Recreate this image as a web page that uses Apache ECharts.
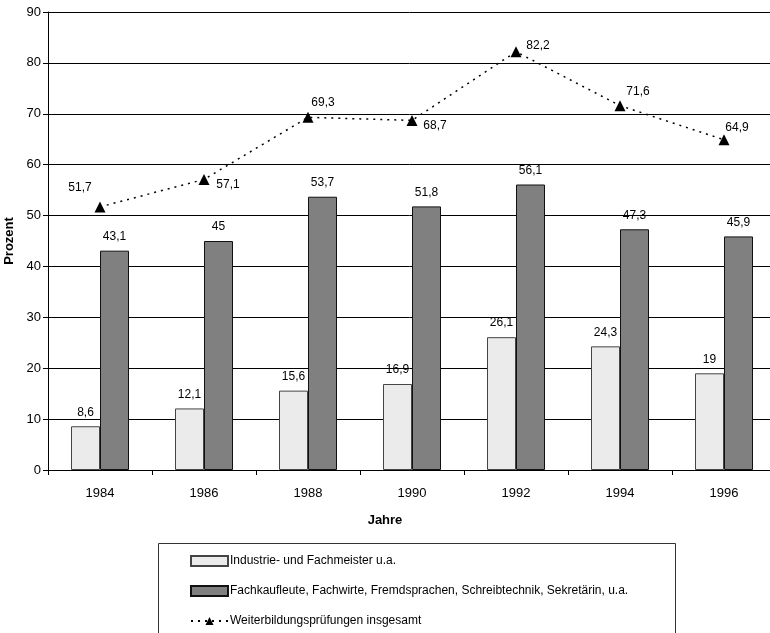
<!DOCTYPE html>
<html>
<head>
<meta charset="utf-8">
<script src="https://cdn.jsdelivr.net/npm/echarts@6/dist/echarts.min.js"></script>
<style>
  html, body { margin: 0; padding: 0; background: #fff; }
  #chart { width: 770px; height: 633px; }
</style>
</head>
<body>
<div id="chart"></div>
<script>
// Jahre und Prüfungsanteile (in Prozent)
const years = ['1984', '1986', '1988', '1990', '1992', '1994', '1996'];
const industrie = [8.6, 12.1, 15.6, 16.9, 26.1, 24.3, 19];
const kaufleute = [43.1, 45, 53.7, 51.8, 56.1, 47.3, 45.9];
const insgesamt = [51.7, 57.1, 69.3, 68.7, 82.2, 71.6, 64.9];
const yTicks = [0, 10, 20, 30, 40, 50, 60, 70, 80, 90];

const seriesNames = [
  'Industrie- und Fachmeister u.a.',
  'Fachkaufleute, Fachwirte, Fremdsprachen, Schreibtechnik, Sekretärin, u.a.',
  'Weiterbildungsprüfungen insgesamt'
];

// label placement next to each triangle marker
const lineLabelOffsets = [[-20, -19], [24, 5], [15, -15], [23, 5], [22, -6], [18, -14], [13, -12]];

const FONT = '"Liberation Sans", Arial, sans-serif';
const fmt = v => String(v).replace('.', ',');

const legendRowTops = [555, 585, 615];
const legendBase = {
  orient: 'vertical',
  left: 190,
  padding: 0,
  itemWidth: 37,
  itemHeight: 10,
  itemGap: 0,
  textStyle: { fontFamily: FONT, fontSize: 12, color: '#000', padding: [0, 0, 0, -3] }
};

const chart = echarts.init(document.getElementById('chart'), null, { renderer: 'canvas' });

chart.setOption({
  animation: false,
  backgroundColor: '#ffffff',
  textStyle: { fontFamily: FONT, color: '#000' },
  grid: { left: 48, top: 12, width: 728, bottom: 163, containLabel: false, outerBoundsMode: 'none' },
  xAxis: {
    type: 'category',
    data: years,
    boundaryGap: true,
    name: 'Jahre',
    nameLocation: 'middle',
    nameGap: 44,
    nameTextStyle: { fontFamily: FONT, fontWeight: 'bold', fontSize: 13, color: '#000', padding: [0, 54, 0, 0] },
    axisLine: { lineStyle: { color: '#000', width: 1 } },
    axisTick: { show: true, alignWithLabel: false, length: 5, lineStyle: { color: '#000' } },
    axisLabel: { fontFamily: FONT, fontSize: 13, color: '#000', margin: 17 },
    splitLine: { show: false }
  },
  yAxis: {
    type: 'value',
    min: yTicks[0],
    max: yTicks[yTicks.length - 1],
    interval: 10,
    name: 'Prozent',
    nameLocation: 'middle',
    nameGap: 32,
    nameTextStyle: { fontFamily: FONT, fontWeight: 'bold', fontSize: 13, color: '#000' },
    axisLine: { show: true, lineStyle: { color: '#000', width: 1 } },
    axisTick: { show: true, length: 5, inside: false, lineStyle: { color: '#000' } },
    axisLabel: { fontFamily: FONT, fontSize: 13, color: '#000', margin: 7 },
    splitLine: { show: true, lineStyle: { color: '#000', width: 1 } }
  },
  legend: [
    Object.assign({}, legendBase, { top: legendRowTops[0], data: [{ name: seriesNames[0], icon: 'rect' }] }),
    Object.assign({}, legendBase, { top: legendRowTops[1], data: [{ name: seriesNames[1], icon: 'rect' }] }),
    Object.assign({}, legendBase, { top: legendRowTops[2], data: [{ name: seriesNames[2] }] })
  ],
  graphic: [{
    type: 'rect',
    shape: { x: 158.5, y: 543.5, width: 517, height: 100 },
    style: { fill: 'none', stroke: '#333', lineWidth: 1 },
    z: 0
  }],
  series: [
    {
      name: seriesNames[0],
      type: 'bar',
      data: industrie,
      barWidth: 29,
      barGap: '0%',
      itemStyle: { color: '#ebebeb', borderColor: '#444', borderWidth: 1 },
      label: { show: true, position: 'top', distance: 8, fontFamily: FONT, fontSize: 12, color: '#000', formatter: p => fmt(p.value) },
      z: 3
    },
    {
      name: seriesNames[1],
      type: 'bar',
      data: kaufleute,
      barWidth: 29,
      barGap: '0%',
      itemStyle: { color: '#808080', borderColor: '#111', borderWidth: 1 },
      label: { show: true, position: 'top', distance: 8, fontFamily: FONT, fontSize: 12, color: '#000', formatter: p => fmt(p.value) },
      z: 3
    },
    {
      name: seriesNames[2],
      type: 'line',
      data: insgesamt.map((v, i) => ({
        value: v,
        label: { offset: lineLabelOffsets[i] }
      })),
      symbol: 'triangle',
      symbolSize: 11,
      itemStyle: { color: '#000' },
      lineStyle: { color: '#000', width: 1.5, type: [2, 5] },
      label: { show: true, position: 'inside', fontFamily: FONT, fontSize: 12, color: '#000', formatter: p => fmt(p.value) },
      z: 5
    }
  ]
});
</script>
</body>
</html>
